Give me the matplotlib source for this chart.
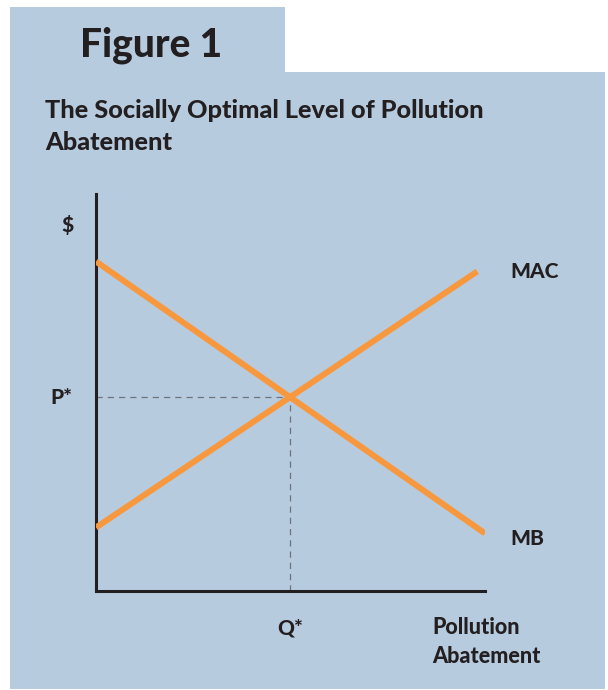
"""
plot.py

Socially optimal level of pollution abatement: MB vs MAC curves.
"""
import matplotlib
matplotlib.use("Agg")
import matplotlib.pyplot as plt
from matplotlib.patches import Polygon

# curve end points (data units, 0-10 on both axes)
mb_x = [0.0, 10.0]
mb_y = [8.3, 1.45]
mac_x = [0.0, 9.8]
mac_y = [1.6, 8.05]

curve_labels = ["MAC", "MB"]
axis_labels = ["$", "P*", "Q*", "Pollution", "Abatement"]
title_lines = ["The Socially Optimal Level of Pollution", "Abatement"]

BLUE = "#b7cbdf"
ORANGE = "#f7983f"
INK = "#231f20"
W, H = 608, 690


def fx(px):
    return px / W


def fy(py):
    return 1 - py / H


def line_coeffs(xs, ys):
    slope = (ys[1] - ys[0]) / (xs[1] - xs[0])
    return slope, ys[0] - slope * xs[0]


# intersection of the two curves
m1, b1 = line_coeffs(mb_x, mb_y)
m2, b2 = line_coeffs(mac_x, mac_y)
q_star = (b2 - b1) / (m1 - m2)
p_star = m1 * q_star + b1

plt.rcParams["font.family"] = ["Lato", "DejaVu Sans"]

fig = plt.figure(figsize=(W / 100, H / 100), dpi=100)
fig.patch.set_facecolor("white")

# blue panel with the tab on top
panel = [(10, 7), (285, 7), (285, 72), (605, 72), (605, 689), (10, 689)]
fig.add_artist(Polygon([(fx(x), fy(y)) for x, y in panel], closed=True,
                       transform=fig.transFigure, facecolor=BLUE, edgecolor="none", zorder=0))

fig.text(fx(80), fy(56), "Figure 1", fontsize=28, fontweight="black", color=INK)
fig.text(fx(45), fy(118), title_lines[0], fontsize=18.2, fontweight="black", color=INK, va="baseline")
fig.text(fx(45), fy(150), title_lines[1], fontsize=18.2, fontweight="black", color=INK, va="baseline")

ax = fig.add_axes([fx(96), fy(591), fx(485) - fx(96), (591 - 194) / H])
ax.set_facecolor("none")
ax.set_xlim(0, 10)
ax.set_ylim(0, 10)
for side in ["top", "right"]:
    ax.spines[side].set_visible(False)
for side in ["left", "bottom"]:
    ax.spines[side].set_linewidth(2.2)
    ax.spines[side].set_color(INK)
    ax.spines[side].set_capstyle("projecting")
ax.set_xticks([])
ax.set_yticks([])

ax.plot(mb_x, mb_y, color=ORANGE, lw=4.3, solid_capstyle="butt", zorder=3)
ax.plot(mac_x, mac_y, color=ORANGE, lw=4.3, solid_capstyle="butt", zorder=3)

ax.plot([0, q_star], [p_star, p_star], color="#6e7379", lw=0.9, dashes=(5, 4), zorder=2)
ax.plot([q_star, q_star], [0, p_star], color="#6e7379", lw=0.9, dashes=(5, 4), zorder=2)

tk = dict(fontsize=15, fontweight="black", color=INK, clip_on=False)
ax.text(10.64, mac_y[1], curve_labels[0], ha="left", va="center", **tk)
ax.text(10.64, 1.31, curve_labels[1], ha="left", va="center", **tk)
ax.text(-0.72, 9.22, axis_labels[0], ha="center", va="center", **tk)
ax.text(-0.9, p_star, axis_labels[1], ha="center", va="center", **tk)
ax.text(q_star, -0.93, axis_labels[2], ha="center", va="center", **tk)
ax.text(8.64, -0.93, axis_labels[3], ha="left", va="center", fontsize=15.5,
        **{k: v for k, v in tk.items() if k != "fontsize"})
ax.text(8.64, -1.64, axis_labels[4], ha="left", va="center", fontsize=15.5,
        **{k: v for k, v in tk.items() if k != "fontsize"})

fig.savefig("out.png", dpi=100, facecolor="white")
